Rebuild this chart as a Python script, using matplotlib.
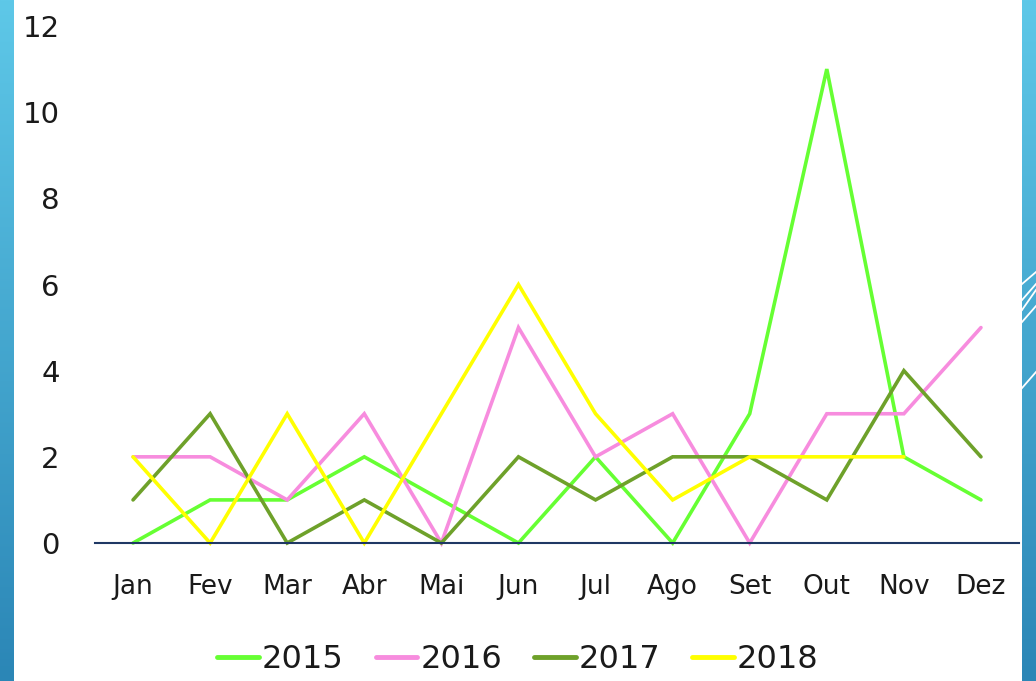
import matplotlib
matplotlib.use("Agg")
import matplotlib.pyplot as plt
import numpy as np
from matplotlib.lines import Line2D
from matplotlib.colors import LinearSegmentedColormap

months = ["Jan", "Fev", "Mar", "Abr", "Mai", "Jun", "Jul", "Ago", "Set", "Out", "Nov", "Dez"]
s2015 = [0, 1, 1, 2, 1, 0, 2, 0, 3, 11, 2, 1]
s2016 = [2, 2, 1, 3, 0, 5, 2, 3, 0, 3, 3, 5]
s2017 = [1, 3, 0, 1, 0, 2, 1, 2, 2, 1, 4, 2]
s2018 = [2, 0, 3, 0, 3, 6, 3, 1, 2, 2, 2]
series_names = ["2015", "2016", "2017", "2018"]
colors = ["#66ff33", "#f78cde", "#6ea12a", "#ffff00"]
yticks = [0, 2, 4, 6, 8, 10, 12]

W, H = 1036, 681
fig = plt.figure(figsize=(W / 100, H / 100), dpi=100)
fig.patch.set_facecolor("white")

# decorative side strips with gradient
grad = np.linspace(0, 1, 256).reshape(-1, 1)
cmap = LinearSegmentedColormap.from_list("b", ["#5ec8e8", "#2b86b6"])
axl = fig.add_axes([0, 0, 14 / W, 1])
axl.imshow(grad, aspect="auto", cmap=cmap, extent=[0, 1, 0, 1], origin="upper")
axl.axis("off")
axr = fig.add_axes([1022 / W, 0, 14 / W, 1])
axr.imshow(grad, aspect="auto", cmap=cmap, extent=[0, 1, 0, 1], origin="upper")
axr.set_xlim(0, 1); axr.set_ylim(0, 1)
# diagonal white lines (image y of left end, right end)
for (yl, yr) in [(284, 272), (300, 284), (310, 290), (322, 306), (388, 372)]:
    axr.plot([0, 1], [1 - yl / H, 1 - yr / H], color="white", lw=1.3)
axr.axis("off")

# main axes
left = 94.5 / W
right = 1019.5 / W
bottom = 1 - 543 / H
top = 1 - 26 / H
ax = fig.add_axes([left, bottom, right - left, top - bottom])
x = np.arange(len(months))
data = [s2015, s2016, s2017, s2018]
for name, vals, c in zip(series_names, data, colors):
    ax.plot(x[:len(vals)], vals, color=c, lw=2.6, label=name,
            solid_capstyle="round", solid_joinstyle="miter", clip_on=False)

ax.set_xlim(-0.5, len(months) - 0.5)
ax.set_ylim(0, 12)
ax.set_yticks(yticks)
ax.set_xticks(x)
ax.set_xticklabels(months, fontsize=19, family="DejaVu Sans", color="#1a1a1a")
ax.set_yticklabels([str(t) for t in yticks], fontsize=21, family="DejaVu Sans", color="#1a1a1a")
for s in ["top", "right", "left"]:
    ax.spines[s].set_visible(False)
ax.spines["bottom"].set_color("#1f3864")
ax.spines["bottom"].set_linewidth(1.5)
ax.tick_params(axis="both", length=0)
ax.tick_params(axis="y", pad=25)
ax.tick_params(axis="x", pad=22)
ax.set_facecolor("none")

handles = [Line2D([0], [0], color=c, lw=3.5, solid_capstyle="round") for c in colors]
fig.legend(handles, series_names, loc="center", bbox_to_anchor=(518 / W, 1 - 660 / H),
           ncol=4, frameon=False, fontsize=23, handlelength=1.3, handletextpad=0.1,
           columnspacing=1.0, labelcolor="#1a1a1a")

fig.savefig("out.png", dpi=100)
